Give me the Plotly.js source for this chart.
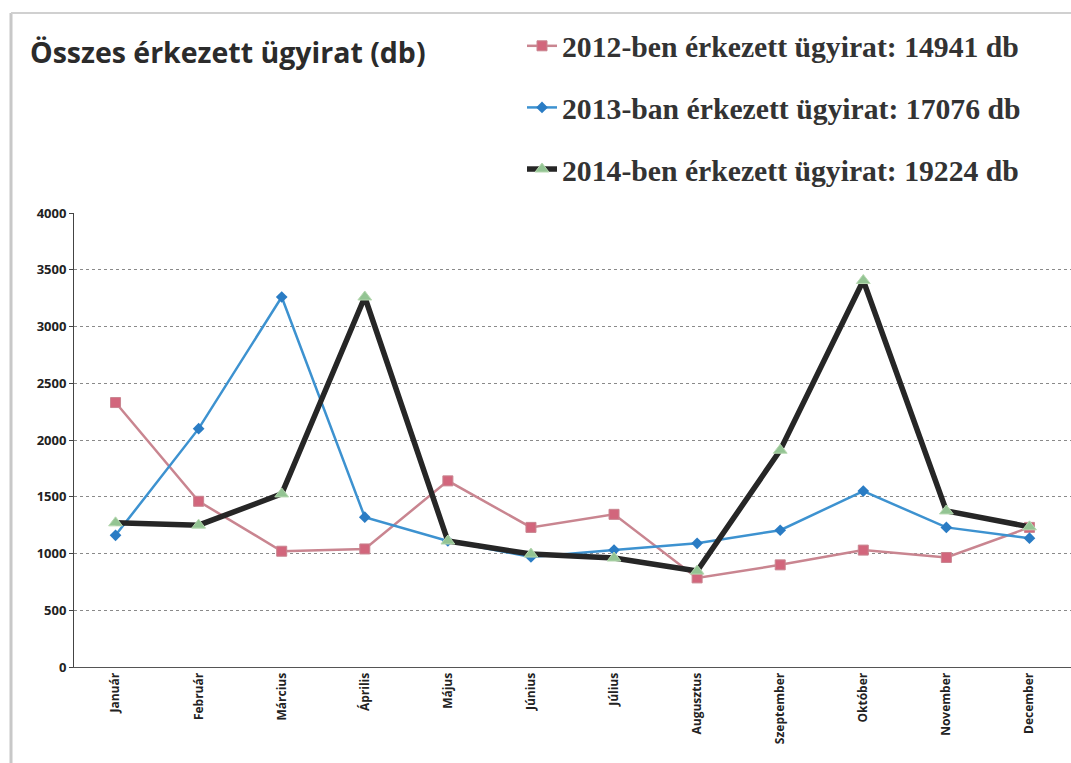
<!DOCTYPE html>
<html>
<head>
<meta charset="utf-8">
<script src="https://cdn.plot.ly/plotly-3.0.1.min.js"></script>
<style>
html,body{margin:0;padding:0;background:#fff;}
#chart{width:1071px;height:763px;}
</style>
</head>
<body>
<div id="chart"></div>
<script>
const months = ["Január","Február","Március","Április","Május","Június","Július","Augusztus","Szeptember","Október","November","December"];
const values2012 = [2330,1460,1020,1040,1640,1230,1345,785,900,1030,965,1230];
const values2013 = [1160,2100,3260,1320,1110,970,1030,1090,1205,1550,1230,1135];
const values2014 = [1270,1250,1525,3260,1110,995,960,845,1910,3405,1375,1235];
const seriesNames = [
  "2012-ben érkezett ügyirat: 14941 db",
  "2013-ban érkezett ügyirat: 17076 db",
  "2014-ben érkezett ügyirat: 19224 db"
];
const titleText = "Összes érkezett ügyirat (db)";

const traces = [
  {x: months, y: values2012, name: "<b>"+seriesNames[0]+"</b>", type: "scatter", mode: "lines+markers",
   legendgroup: "a",
   line: {color: "#c98590", width: 2.5},
   marker: {symbol: "square", size: 10, color: "#d2667c", line: {color: "#c98590", width: 1}}},
  {x: months, y: values2013, name: "<b>"+seriesNames[1]+"</b>", type: "scatter", mode: "lines+markers",
   legendgroup: "b",
   line: {color: "#3d92d0", width: 2.5},
   marker: {symbol: "diamond", size: 9, color: "#2a7cc4"}},
  {x: months, y: values2014, name: "<b>"+seriesNames[2]+"</b>", type: "scatter", mode: "lines+markers",
   legendgroup: "c",
   line: {color: "#262626", width: 5.5},
   marker: {symbol: "triangle-up", size: 12, color: "#93c493", line: {color: "#b6d8b0", width: 1}}}
];

const L = 74, R = 1071, T = 213, B = 667;
const px = v => (v - L) / (R - L);
const py = v => (B - v) / (B - T);

const layout = {
  width: 1071, height: 763,
  margin: {l: L, r: 1071 - R, t: T, b: 763 - B, pad: 0},
  paper_bgcolor: "#ffffff",
  plot_bgcolor: "#ffffff",
  showlegend: true,
  legend: {
    x: px(522), xanchor: "left",
    y: py(20), yanchor: "top",
    font: {family: "Liberation Serif", size: 29.7, color: "#333333"},
    traceorder: "grouped",
    tracegroupgap: 20,
    bgcolor: "rgba(0,0,0,0)",
    itemwidth: 30
  },
  xaxis: {
    type: "category",
    range: [-0.5, 11.5],
    tickvals: months,
    ticktext: months.map(m => "<b>" + m + "</b>"),
    tickangle: -90,
    tickfont: {family: "Open Sans", size: 12, color: "#222"},
    showgrid: false,
    showline: true, linecolor: "#555", linewidth: 1,
    ticks: "", ticklen: 4,
    zeroline: false,
    fixedrange: true
  },
  yaxis: {
    range: [0, 4000],
    dtick: 500,
    tickfont: {family: "Open Sans", size: 13, color: "#222"},
    tickprefix: "<b>", ticksuffix: "</b>",
    showgrid: true, gridcolor: "#8a8a8a", griddash: "dot", gridwidth: 1,
    showline: true, linecolor: "#444", linewidth: 1,
    ticks: "outside", ticklen: 4, tickcolor: "#444",
    zeroline: false,
    fixedrange: true
  },
  annotations: [
    {text: "<b>" + titleText + "</b>", xref: "paper", yref: "paper",
     x: px(28), xanchor: "left", y: py(52), yanchor: "middle", showarrow: false,
     font: {family: "Open Sans", size: 28.5, color: "#2b2b2b"}}
  ],
  shapes: [
    {type: "line", xref: "paper", yref: "paper", x0: px(11), x1: px(11), y0: py(13), y1: py(763), line: {color: "#c8c8c8", width: 3}},
    {type: "line", xref: "paper", yref: "paper", x0: px(11), x1: px(1071), y0: py(13), y1: py(13), line: {color: "#d0d0d0", width: 2}}
  ]
};

Plotly.newPlot("chart", traces, layout, {staticPlot: true, displayModeBar: false});
</script>
</body>
</html>
